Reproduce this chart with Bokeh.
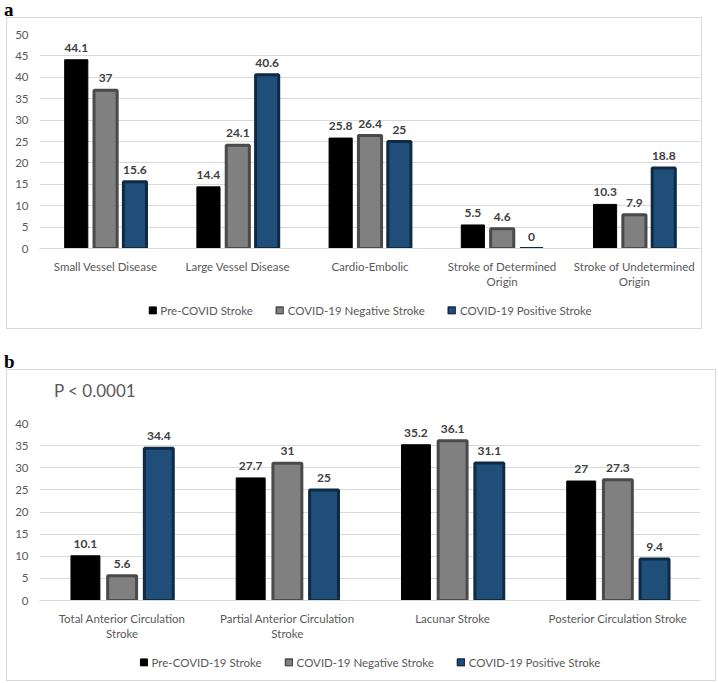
from bokeh.plotting import figure
from bokeh.models import (FactorRange, Legend, LegendItem, ColumnDataSource, Div,
                          SingleIntervalTicker, Range1d)
from bokeh.transform import dodge
from bokeh.layouts import column
from bokeh.embed import file_html
from bokeh.resources import INLINE
from bokeh.core.properties import value

# ---- data ----
cats_a = ["Small Vessel Disease", "Large Vessel Disease", "Cardio-Embolic",
          "Stroke of Determined\nOrigin", "Stroke of Undetermined\nOrigin"]
pre_a = [44.1, 14.4, 25.8, 5.5, 10.3]
neg_a = [37, 24.1, 26.4, 4.6, 7.9]
pos_a = [15.6, 40.6, 25, 0, 18.8]
series_a = ["Pre-COVID Stroke", "COVID-19 Negative Stroke", "COVID-19 Positive Stroke"]

cats_b = ["Total Anterior Circulation\nStroke", "Partial Anterior Circulation\nStroke",
          "Lacunar Stroke", "Posterior Circulation Stroke"]
pre_b = [10.1, 27.7, 35.2, 27]
neg_b = [5.6, 31, 36.1, 27.3]
pos_b = [34.4, 25, 31.1, 9.4]
series_b = ["Pre-COVID-19 Stroke", "COVID-19 Negative Stroke", "COVID-19 Positive Stroke"]
title_b = "P < 0.0001"

FONT = "Lato"
TXT = "#595959"
GRID = "#d9d9d9"
STYLES = [
    dict(fill_color="#000000", line_color="#000000", line_width=1),
    dict(fill_color="#808080", line_color="#4a4a4a", line_width=3),
    dict(fill_color="#1f4e79", line_color="#0f2a44", line_width=3),
]
LEG_STYLES = [
    dict(fill_color="#000000", line_color="#000000", line_width=1),
    dict(fill_color="#808080", line_color="#4a4a4a", line_width=1.5),
    dict(fill_color="#1f4e79", line_color="#0f2a44", line_width=1.5),
]
OFFS = [-0.222, 0.0, 0.222]
BW = 0.175


def fmt(v):
    return ("%g" % v)


def make_panel(cats, vals, ymax, width, right, top=16, height=273, mtop=1):
    p = figure(x_range=FactorRange(factors=cats), y_range=Range1d(0, ymax),
               width=width, height=height, output_backend="svg", toolbar_location=None,
               min_border_left=32, min_border_right=right,
               min_border_top=top, min_border_bottom=42, margin=(mtop, 1, 0, 1))
    p.outline_line_color = None
    src = ColumnDataSource(dict(cat=cats, v0=vals[0], v1=vals[1], v2=vals[2],
                                t0=[fmt(v) for v in vals[0]],
                                t1=[fmt(v) for v in vals[1]],
                                t2=[fmt(v) for v in vals[2]]))
    for i in range(3):
        p.vbar(x=dodge("cat", OFFS[i], range=p.x_range), top="v%d" % i, width=BW,
               source=src, **STYLES[i])
        p.text(x=dodge("cat", OFFS[i], range=p.x_range), y="v%d" % i, text="t%d" % i,
               source=src, text_align="center", text_baseline="bottom", y_offset=-8,
               text_font=value(FONT), text_font_size="12px", text_font_style="bold",
               text_color="#404040")
    p.yaxis.ticker = SingleIntervalTicker(interval=5)
    p.yaxis.axis_line_color = None
    p.yaxis.major_tick_line_color = None
    p.yaxis.minor_tick_line_color = None
    p.yaxis.major_label_text_font = FONT
    p.yaxis.major_label_text_font_size = "11.5px"
    p.yaxis.major_label_text_color = TXT
    p.yaxis.major_label_standoff = 5
    p.xaxis.axis_line_color = GRID
    p.xaxis.major_tick_line_color = None
    p.xaxis.minor_tick_line_color = None
    p.xaxis.major_label_text_font = FONT
    p.xaxis.major_label_text_font_size = "11.5px"
    p.xaxis.major_label_text_color = TXT
    p.xaxis.major_label_standoff = 5
    p.xgrid.grid_line_color = None
    p.ygrid.grid_line_color = GRID
    p.x_range.range_padding = 0
    return p


def make_legend(series, width, left):
    lf = figure(width=width, height=37, output_backend="svg", toolbar_location=None,
                x_range=Range1d(0, 1), y_range=Range1d(0, 1),
                x_axis_location=None, y_axis_location=None,
                min_border_left=left, min_border_right=0, min_border_top=0,
                min_border_bottom=0, margin=(0, 1, 1, 1))
    lf.xgrid.grid_line_color = None
    lf.ygrid.grid_line_color = None
    lf.outline_line_color = None
    lf.background_fill_color = "white"
    lf.border_fill_color = "white"
    items = []
    for i in range(3):
        # hidden swatch renderer per series: only its legend entry is shown
        r = lf.vbar(x=[0.5], top=[0.5], width=0.1, visible=False, **LEG_STYLES[i])
        items.append(LegendItem(label=series[i], renderers=[r]))
    leg = Legend(items=items, orientation="horizontal", location="center",
                 border_line_color=None, background_fill_alpha=0,
                 inactive_fill_alpha=0,
                 glyph_width=9, glyph_height=9, label_standoff=4, spacing=22,
                 label_height=12, label_text_font=FONT, label_text_font_size="11.5px",
                 label_text_color=TXT, padding=4, margin=0)
    lf.add_layout(leg, "center")
    return lf


pa = make_panel(cats_a, [pre_a, neg_a, pos_a], 50, 694, 1)
la = make_legend(series_a, 694, 18)

tb = Div(text=title_b, width=708, height=30, margin=(1, 1, 0, 1),
         styles={"background-color": "white", "font-family": FONT,
                 "font-size": "17px", "color": TXT, "line-height": "42px",
                 "padding-left": "47px", "box-sizing": "border-box"})
pb = make_panel(cats_b, [pre_b, neg_b, pos_b], 40, 708, 15, top=23, height=243, mtop=0)
lb = make_legend(series_b, 708, 3)

BOX = {"background-color": "white", "box-shadow": "inset 0 0 0 1px #d9d9d9"}
box_a = column(pa, la, spacing=0, margin=(0, 0, 0, 6), styles=BOX)
box_b = column(tb, pb, lb, spacing=0, margin=(0, 0, 0, 6), styles=BOX)

da = Div(text="a", width=30, height=17, margin=(0, 0, 0, 4),
         styles={"font-family": "Liberation Serif", "font-weight": "bold",
                 "font-size": "19px", "line-height": "19px", "color": "#000"})
db = Div(text="b", width=30, height=40, margin=(0, 0, 0, 4),
         styles={"font-family": "Liberation Serif", "font-weight": "bold",
                 "font-size": "19px", "line-height": "65px", "color": "#000"})

layout = column(da, box_a, db, box_b, spacing=0)
open("out.html", "w").write(file_html(layout, INLINE))
